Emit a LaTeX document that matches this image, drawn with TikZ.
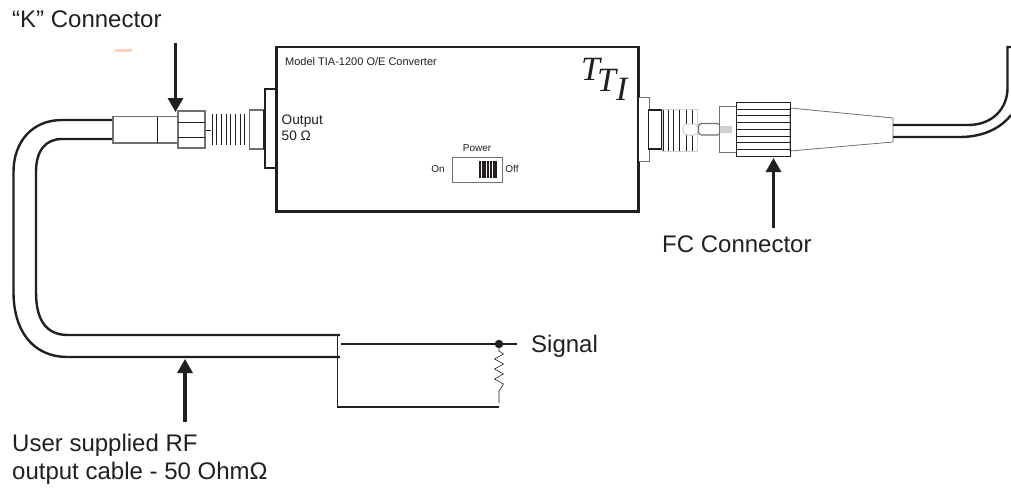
\documentclass[tikz,border=0pt]{standalone}
\usepackage{fontspec}
\setmainfont{Liberation Sans}
\newfontfamily\timesf{Liberation Serif}
\usetikzlibrary{arrows.meta}
\definecolor{ink}{HTML}{231F20}
\definecolor{rimgray}{HTML}{707070}
\definecolor{peach}{HTML}{FFCFBB}
\definecolor{pale}{HTML}{D0D0D0}
\tikzset{
  lbl/.style={inner sep=0pt,text=ink,anchor=base west,font=\fontsize{#1}{#1}\selectfont},
  lblc/.style={inner sep=0pt,text=ink,anchor=base,font=\fontsize{#1}{#1}\selectfont},
  tti/.style={inner sep=0pt,text=ink,anchor=base west,font=\timesf\itshape\fontsize{#1}{#1}\selectfont},
  thickline/.style={draw=ink,line width=2.2pt},
  cable/.style={draw=ink,line width=2.4pt},
  thinline/.style={draw=ink,line width=1pt},
  graybox/.style={draw=rimgray,line width=1.1pt,fill=white},
  callout/.style={draw=ink,line width=3.2pt,-{Triangle[length=14pt,width=15pt]}},
}
\begin{document}
\begin{tikzpicture}[x=1pt,y=-1pt,line join=miter]
\useasboundingbox (0,0) rectangle (1011,487);
% stray mark
\fill[peach] (115,49) rectangle (132,52.5);

% left cable
\draw[cable] (113,120) -- (62,120) .. controls (32,120) and (13.5,142) .. (13.5,172)
  -- (13.5,292) .. controls (13.5,330) and (32,357) .. (68,357) -- (340,357);
\draw[cable] (113,139) -- (62,139) .. controls (46,139) and (36,150) .. (36,172)
  -- (36,292) .. controls (36,320) and (46,335) .. (68,335) -- (340,335);

% K connector
\draw[graybox] (113,116.5) rectangle (178,143);
\draw[thinline] (157,116.5) -- (157,143);
\draw[graybox] (178,111) rectangle (205,148);
\draw[thinline] (178,122) -- (205,122) (178,137) -- (205,137);
\draw[thinline] (205.5,130) -- (211,130);
\foreach \x in {212,216.7,221.7,226.7,230.7,235,240,244.5}
  \draw[thinline] (\x,114) -- (\x,145);
\draw[graybox] (249.5,110) rectangle (264,149);

% box
\draw[thickline,fill=white] (276.5,47) rectangle (638.5,211.5);
\draw[thickline,fill=white] (265,89) rectangle (276.5,168);
\draw[draw=ink,line width=1.6pt] (264,110) -- (264,149);

% right connector
\draw[draw=rimgray,line width=1pt,fill=white] (638.5,97.5) rectangle (649.5,161);
\draw[draw=ink,line width=1.8pt] (638.5,47) -- (638.5,211.5);
\draw[thickline,line width=1.5pt,fill=white] (648.5,110) rectangle (662,149);
\draw[draw=pale,line width=.5pt] (662,109) rectangle (697,151);
\foreach \x in {663.5,668,673.5,679,686,692}
  \draw[thinline] (\x,109.5) -- (\x,150.5);
\draw[draw=pale,line width=1pt,fill=white,rounded corners=4pt] (683,124) rectangle (698,135);
\draw[draw=rimgray,line width=1.2pt,fill=white,rounded corners=3pt] (698.5,123.5) rectangle (720,135);
\fill[pale] (720,126) rectangle (732,133);
\draw[draw=rimgray,line width=1pt] (736.5,106.5) -- (719.5,106.5) -- (719.5,152) -- (736.5,152);
\draw[draw=rimgray,line width=.8pt,fill=white] (790,108) -- (893,118) -- (893,142) -- (790,151) -- cycle;
\draw[draw=ink,line width=.9pt] (736.5,102) rectangle (790,156);
\foreach \y in {109,115,122,129,136,142,149}
  \draw[thinline] (736.5,\y) -- (790,\y);

% right cable
\draw[cable] (893,125) -- (968,125) .. controls (993,125) and (1007.5,108) .. (1007.5,88)
  -- (1007.5,47) -- (1011,47);
\draw[cable] (893,137) -- (960,137) .. controls (982,137) and (1000,129) .. (1011,115);

% cable termination
\draw[draw=ink,line width=1.8pt] (337.5,334) -- (337.5,407) -- (499,407);
\draw[draw=ink,line width=2.4pt] (341,344) -- (517,344);
\node[circle,fill=ink,inner sep=0pt,minimum size=8.5pt] (sigdot) at (499,344) {};
\coordinate (resend) at (499,403);
\draw[draw=ink,line width=.6pt] (sigdot.south) -- (499,351) -- (503.5,354) -- (494.5,359) -- (503.5,364) -- (494.5,369) -- (503.5,374) -- (494.5,379) -- (503.5,384) -- (499,391) -- (resend);

% switch
\draw[draw=rimgray,line width=1pt,fill=white] (452.5,157.5) rectangle (502,182);
\foreach \x in {480,482.7,485.4,488.1,490.8,493.5,496.2}
  \draw[draw=ink,line width=2pt] (\x,161) -- (\x,178);

% arrows
\coordinate (katop) at (175.5,43);
\coordinate (katip) at (175.5,112);
\coordinate (fcbot) at (773.5,228);
\coordinate (fctip) at (773.5,158);
\coordinate (cabot) at (185,422);
\coordinate (catip) at (185,359);
\draw[callout] (katop) -- (katip);
\draw[callout] (fcbot) -- (fctip);
\draw[callout] (cabot) -- (catip);

% text
\node[lbl=24] (ktext) at (12,28) {“K” Connector};
\node[lbl=24] (fctext) at (662,252) {FC Connector};
\node[lbl=24] (sigtext) at (531,352) {Signal};
\node[lbl=24] (user1) at (12,451) {User supplied RF};
\node[lbl=24] (user2) at (12,479) {output cable - 50 OhmΩ};
\node[lbl=11] (model) at (285,65) {Model TIA-1200 O/E Converter};
\node[lbl=13.7] (out1) at (281.5,124) {Output};
\node[lbl=13.7] (out2) at (281.5,140) {50 Ω};
\node[lblc=10] (pwr) at (477,151) {Power};
\node[lblc=10] (on) at (438,172) {On};
\node[lblc=10] (off) at (512,172) {Off};
\node[tti=34] (t1) at (581,80) {T};
\node[tti=34] (t2) at (597,92) {T};
\node[tti=34] (t3) at (616,100) {I};
\end{tikzpicture}
\end{document}
